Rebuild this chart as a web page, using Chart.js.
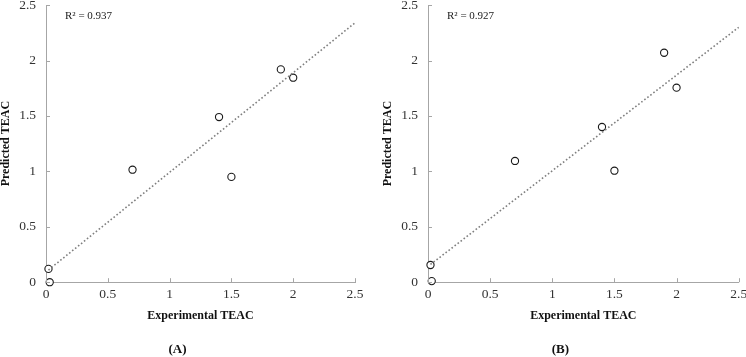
<!DOCTYPE html>
<html>
<head>
<meta charset="utf-8">
<script src="https://cdn.jsdelivr.net/npm/chart.js@4.4.1/dist/chart.umd.min.js"></script>
<style>
  body { margin: 0; background: #fff; }
  .wrap { display: flex; width: 746px; height: 357px; }
  .panel { position: relative; width: 373px; height: 357px; }
</style>
</head>
<body>
<div class="wrap">
  <div class="panel"><canvas id="chartA"></canvas></div>
  <div class="panel"><canvas id="chartB"></canvas></div>
</div>
<script>
// axis ticks (both panels)
const axisTicks = [0, 0.5, 1, 1.5, 2, 2.5];

// panel A
const expA = [0.03, 0.02, 0.70, 1.40, 1.50, 1.90, 2.00];
const predA = [0.00, 0.12, 1.015, 1.49, 0.95, 1.92, 1.845];
const trendXA = [0.02, 2.5];
const trendYA = [0.11, 2.34];

// panel B
const expB = [0.03, 0.02, 0.70, 1.40, 1.50, 1.90, 2.00];
const predB = [0.01, 0.155, 1.094, 1.40, 1.006, 2.07, 1.755];
const trendXB = [0.02, 2.5];
const trendYB = [0.16, 2.30];

const r2Labels = ['R\u00B2 = 0.937', 'R\u00B2 = 0.927'];
const panelLabels = ['(A)', '(B)'];

const serif = "'Liberation Serif', 'Times New Roman', serif";
const axisGray = '#a6a6a6';

// small tick marks drawn inside the plot + R² note
const extras = {
  id: 'extras',
  afterDraw(chart, args, opts) {
    const ctx = chart.ctx;
    const area = chart.chartArea;
    const xs = chart.scales.x;
    const ys = chart.scales.y;
    ctx.save();
    ctx.strokeStyle = axisGray;
    ctx.lineWidth = 1;
    ctx.beginPath();
    axisTicks.forEach(t => {
      const px = Math.round(xs.getPixelForValue(t)) + 0.5;
      ctx.moveTo(px, area.bottom);
      ctx.lineTo(px, area.bottom - 4);
      const py = Math.round(ys.getPixelForValue(t)) + 0.5;
      ctx.moveTo(area.left, py);
      ctx.lineTo(area.left + 4, py);
    });
    ctx.stroke();
    ctx.fillStyle = '#222';
    ctx.font = '11px ' + serif;
    ctx.textBaseline = 'middle';
    ctx.fillText(opts.note, area.left + 19, area.top + 11);
    ctx.restore();
  }
};

function makeChart(id, xs, ys, tx, ty, idx, padLeft, padRight) {
  const points = xs.map((x, i) => ({ x: x, y: ys[i] }));
  const trend = tx.map((x, i) => ({ x: x, y: ty[i] }));

  return new Chart(document.getElementById(id), {
    type: 'scatter',
    data: {
      datasets: [
        {
          type: 'line',
          data: trend,
          borderColor: '#7f7f7f',
          borderWidth: 1.6,
          borderDash: [1.6, 2.2],
          pointRadius: 0,
          fill: false,
          clip: false
        },
        {
          data: points,
          pointRadius: 3.6,
          pointBorderWidth: 1.1,
          pointBorderColor: '#1a1a1a',
          pointBackgroundColor: '#ffffff',
          clip: false
        }
      ]
    },
    options: {
      responsive: true,
      maintainAspectRatio: false,
      animation: false,
      layout: {
        padding: { left: padLeft, right: padRight, top: 5, bottom: 0 }
      },
      plugins: {
        legend: { display: false },
        tooltip: { enabled: false },
        title: {
          display: true,
          position: 'bottom',
          text: panelLabels[idx],
          color: '#111',
          font: { family: serif, size: 13, weight: 'bold', lineHeight: 1.2 },
          padding: { top: 4, bottom: 0 }
        },
        extras: { note: r2Labels[idx] }
      },
      scales: {
        x: {
          type: 'linear',
          min: 0,
          max: 2.5,
          afterBuildTicks: s => { s.ticks = axisTicks.map(v => ({ value: v })); },
          afterFit: s => {
            s.height = 55.2;
            s.paddingLeft = 0;
            s.paddingRight = 0;
          },
          grid: { display: true, drawOnChartArea: false, drawTicks: false },
          border: { color: axisGray, width: 1 },
          ticks: {
            color: '#333',
            padding: 4,
            font: { family: serif, size: 13.5 },
            callback: v => String(v)
          },
          title: {
            display: true,
            text: 'Experimental TEAC',
            color: '#111',
            font: { family: serif, size: 12, weight: 'bold', lineHeight: 1.2 },
            padding: { top: 0, bottom: 14.4 }
          }
        },
        y: {
          type: 'linear',
          min: 0,
          max: 2.5,
          afterBuildTicks: s => { s.ticks = axisTicks.map(v => ({ value: v })); },
          afterFit: s => {
            s.width = 46;
            s.paddingTop = 0;
            s.paddingBottom = 0;
          },
          grid: { display: true, drawOnChartArea: false, drawTicks: false },
          border: { color: axisGray, width: 1 },
          ticks: {
            color: '#333',
            padding: 10,
            font: { family: serif, size: 13.5 },
            callback: v => String(v)
          },
          title: {
            display: true,
            text: 'Predicted TEAC',
            color: '#111',
            font: { family: serif, size: 12, weight: 'bold', lineHeight: 1.2 },
            padding: { top: -1.5, bottom: 0 }
          }
        }
      }
    },
    plugins: [extras]
  });
}

makeChart('chartA', expA, predA, trendXA, trendYA, 0, 0, 18);
makeChart('chartB', expB, predB, trendXB, trendYB, 1, 9, 7.3);
</script>
</body>
</html>
